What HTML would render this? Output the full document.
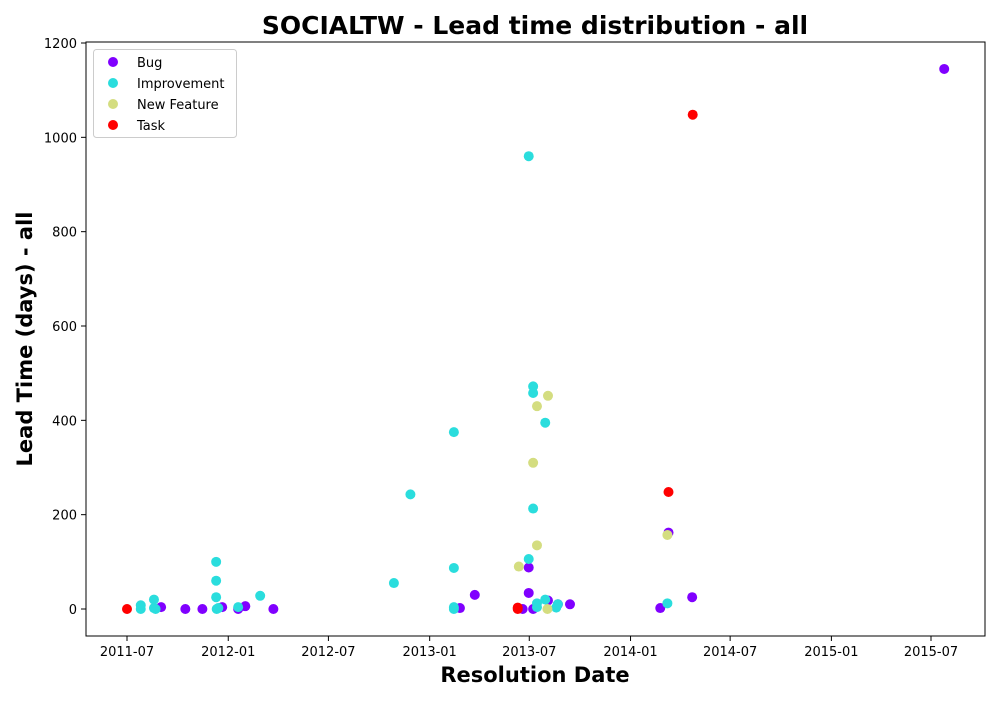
<!DOCTYPE html>
<html><head><meta charset="utf-8"><style>
body{margin:0;background:#fff;font-family:"DejaVu Sans",sans-serif}
</style></head><body>
<svg id="chart" width="1000" height="700" xmlns="http://www.w3.org/2000/svg" font-family="DejaVu Sans, Liberation Sans, sans-serif">
<rect width="1000" height="700" fill="#fff"/>
<text x="535" y="34" text-anchor="middle" font-size="25" font-weight="bold">SOCIALTW - Lead time distribution - all</text>
<text x="535" y="682" text-anchor="middle" font-size="21" font-weight="bold">Resolution Date</text>
<text transform="translate(32,339) rotate(-90)" text-anchor="middle" font-size="21" font-weight="bold">Lead Time (days) - all</text>
<g id="ticks"></g>
<g id="points"></g>
<rect x="86" y="42" width="899" height="594" fill="none" stroke="#000" stroke-width="1"/>
<g id="legend"></g>
</svg>
<script>
const seriesNames = ["Bug","Improvement","New Feature","Task"];
const seriesColors = ["#8000ff","#2adddd","#d4dd80","#ff0000"];
const bugDates = ["2011-09-01","2011-10-15","2011-11-15","2011-12-21","2012-01-19","2012-02-01","2012-03-23","2013-02-25","2013-03-24","2013-06-19","2013-06-30","2013-06-30","2013-07-08","2013-08-04","2013-08-22","2013-09-13","2014-02-24","2014-03-11","2014-04-23","2015-07-25"];
const bugValues = [4,0,0,4,0,6,0,2,30,0,88,34,0,18,10,10,2,162,25,1145];
const impDates = ["2011-07-26","2011-07-26","2011-08-19","2011-08-19","2011-08-22","2011-12-10","2011-12-10","2011-12-10","2011-12-11","2011-12-14","2012-01-19","2012-02-28","2012-10-28","2012-11-27","2013-02-14","2013-02-14","2013-02-14","2013-02-14","2013-06-30","2013-06-30","2013-07-08","2013-07-08","2013-07-08","2013-07-15","2013-07-15","2013-07-30","2013-07-30","2013-08-19","2013-08-22","2014-03-09"];
const impValues = [8,0,20,2,0,100,60,25,0,2,4,28,55,243,375,87,4,0,960,106,472,458,213,4,12,395,20,3,10,12];
const nfDates = ["2013-06-12","2013-07-08","2013-07-15","2013-07-15","2013-08-04","2013-08-03","2014-03-09"];
const nfValues = [90,310,430,135,452,0,157];
const taskDates = ["2011-07-01","2013-06-10","2013-06-10","2014-03-11","2014-04-24"];
const taskValues = [0,0,3,248,1048];
const xTickLabels = ["2011-07","2012-01","2012-07","2013-01","2013-07","2014-01","2014-07","2015-01","2015-07"];
const yTickValues = [0,200,400,600,800,1000,1200];

const NS="http://www.w3.org/2000/svg";
const t0=Date.UTC(2011,6,1), t1=Date.UTC(2015,6,1);
function xScale(d){const p=d.split("-").map(Number);const t=Date.UTC(p[0],p[1]-1,p[2]||1);return 127+(t-t0)/(t1-t0)*804;}
function yScale(v){return 609-v*(566/1200);}
function mk(tag,attrs,parent){const e=document.createElementNS(NS,tag);for(const k in attrs)e.setAttribute(k,attrs[k]);parent.appendChild(e);return e;}
const ticks=document.getElementById("ticks");
xTickLabels.forEach(l=>{const x=xScale(l);
 const ln=mk("line",{x1:x,x2:x,y1:636,y2:641,stroke:"#000"},ticks);
 
 
 const t=mk("text",{x:x,y:656,"text-anchor":"middle","font-size":"13"},ticks);t.textContent=l;
 
 
});
yTickValues.forEach(v=>{const y=yScale(v);
 const ln=mk("line",{x1:81,x2:86,y1:y,y2:y,stroke:"#000"},ticks);
 
 
 const t=mk("text",{x:77,y:y+5,"text-anchor":"end","font-size":"13"},ticks);t.textContent=v;
 
 
});
const pts=document.getElementById("points");
const allD=[bugDates,impDates,nfDates,taskDates], allV=[bugValues,impValues,nfValues,taskValues];
allD.forEach((ds,s)=>{ds.forEach((d,i)=>{
 const c=mk("circle",{cx:xScale(d),cy:yScale(allV[s][i]),r:5,fill:seriesColors[s]},pts);
 
 
});});
const lg=document.getElementById("legend");
mk("rect",{x:93.5,y:49.5,width:143,height:88,rx:3,fill:"#fff",stroke:"#ccc"},lg);
seriesNames.forEach((n,i)=>{const y=62+i*21;
 const c=mk("circle",{cx:113,cy:y,r:5,fill:seriesColors[i]},lg);
 
 
 const t=mk("text",{x:137,y:y+5,"font-size":"13"},lg);t.textContent=n;
 
 
});
</script>
</body></html>
